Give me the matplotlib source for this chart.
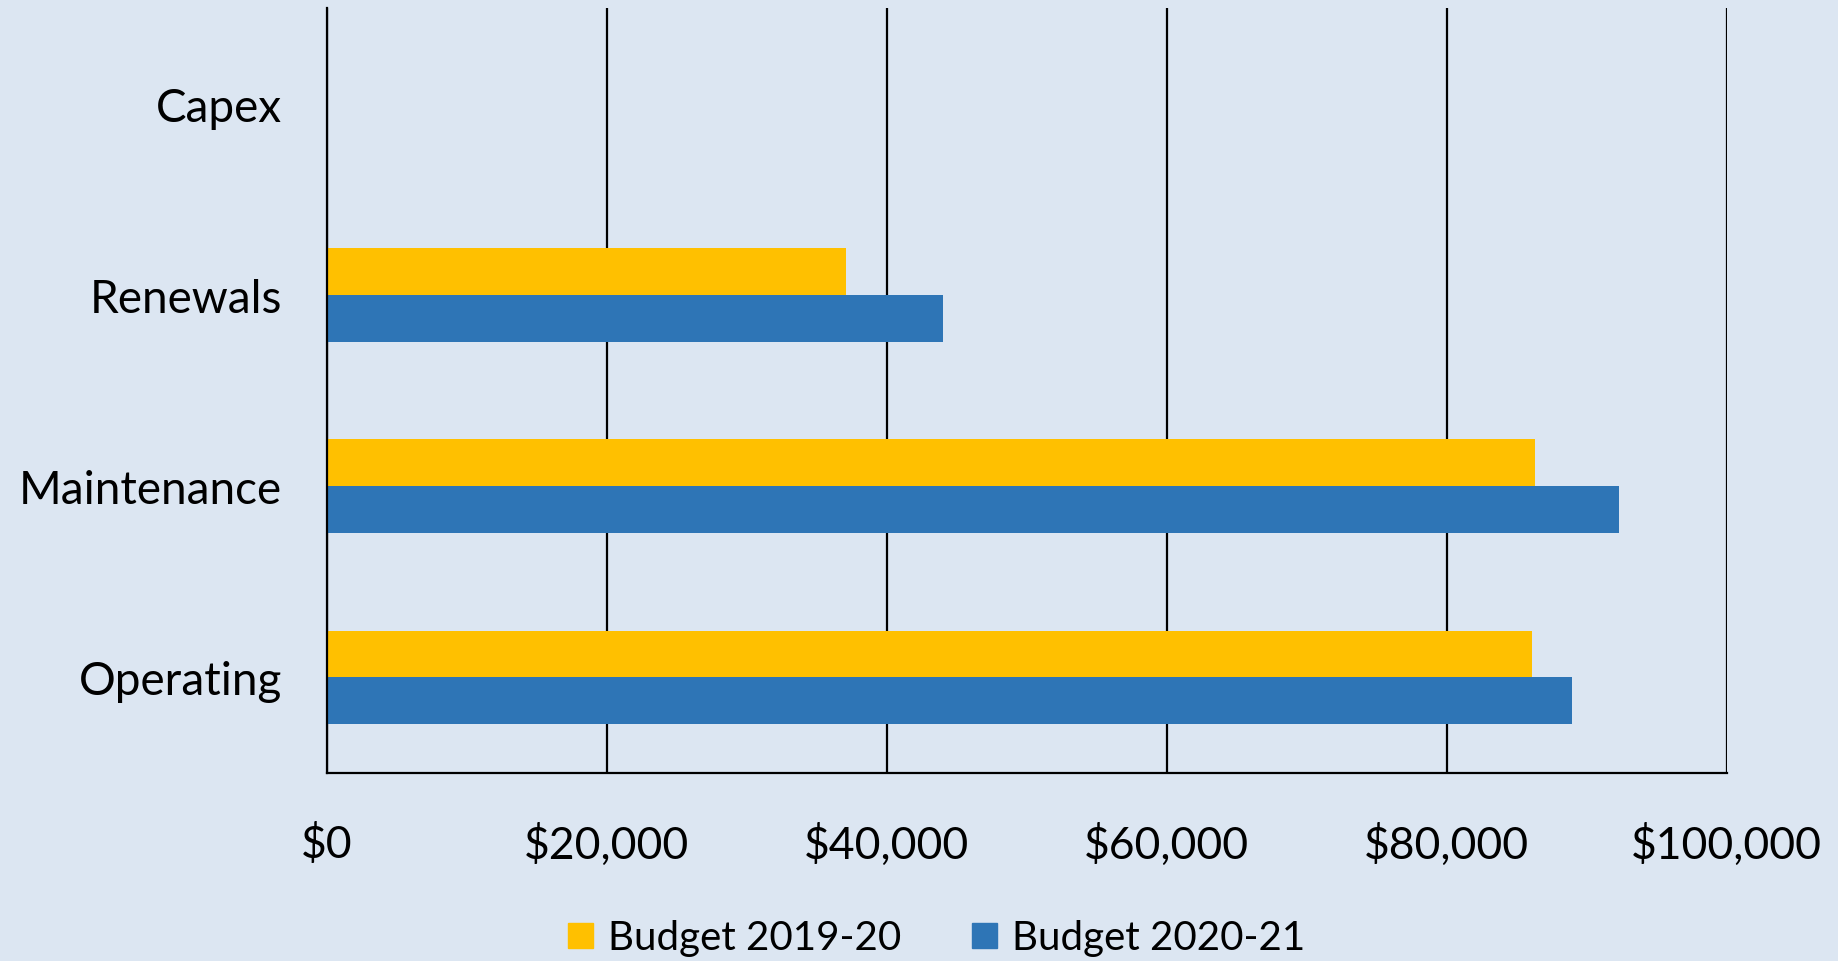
import numpy as np
import matplotlib.pyplot as plt
from matplotlib.lines import Line2D
from matplotlib.ticker import FuncFormatter

categories = ['Operating', 'Maintenance', 'Renewals', 'Capex']
budget_2019_20 = [86100, 86300, 37100, 0]
budget_2020_21 = [88950, 92300, 44000, 0]
series_names = ['Budget 2019-20', 'Budget 2020-21']
x_ticks = [0, 20000, 40000, 60000, 80000, 100000]

bg = '#DCE6F2'
yellow = '#FFC000'
blue = '#2E75B6'


def main():
    plt.rcParams['font.family'] = ['Lato', 'DejaVu Sans']
    fig = plt.figure(figsize=(18.38, 9.62), dpi=100, facecolor=bg)
    ax = fig.add_axes([0.1778, 0.1954, 0.7617, 0.7952], facecolor=bg)

    y = np.arange(len(categories))
    h = 0.244
    ax.barh(y + h / 2, budget_2019_20, height=h, color=yellow, zorder=3)
    ax.barh(y - h / 2, budget_2020_21, height=h, color=blue, zorder=3)

    ax.set_xlim(0, 100000)
    ax.set_ylim(-0.5, len(categories) - 0.5)
    ax.set_xticks(x_ticks)
    ax.xaxis.set_major_formatter(FuncFormatter(lambda v, p: '${:,.0f}'.format(v)))
    ax.set_yticks(y)
    ax.set_yticklabels(categories)
    ax.tick_params(axis='x', length=0, pad=36, labelsize=32)
    ax.tick_params(axis='y', length=0, pad=32, labelsize=33)
    ax.grid(axis='x', color='black', linewidth=1.6, zorder=1)

    for s in ['top', 'right']:
        ax.spines[s].set_visible(False)
    for s in ['left', 'bottom']:
        ax.spines[s].set_color('black')
        ax.spines[s].set_linewidth(1.6)
        ax.spines[s].set_zorder(4)

    handles = [Line2D([], [], marker='s', linestyle='none', markersize=18, color=c)
               for c in [yellow, blue]]
    fig.legend(handles, series_names, loc='center', bbox_to_anchor=(0.508, 0.024),
               ncol=2, frameon=False, fontsize=29, handletextpad=0.25,
               columnspacing=1.6, handlelength=0.9, borderpad=0)

    fig.savefig('out.png', dpi=100, facecolor=bg)


if __name__ == '__main__':
    main()
